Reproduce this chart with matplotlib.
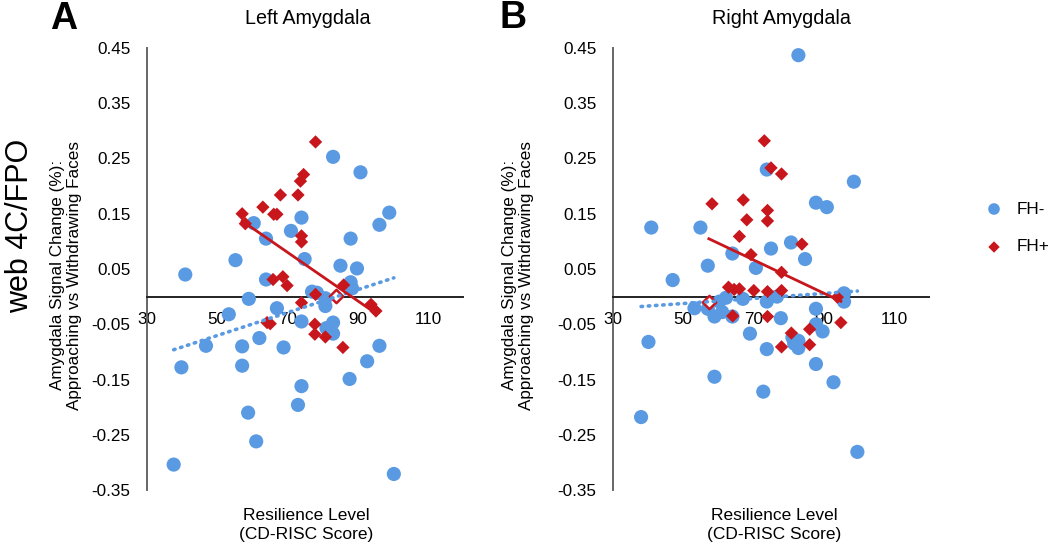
import numpy as np
import matplotlib
matplotlib.use("Agg")
import matplotlib.pyplot as plt

plt.rcParams['font.family'] = ['Liberation Sans', 'DejaVu Sans']
plt.rcParams['axes.unicode_minus'] = False

# ---- data ----
# Left amygdala, FH- (blue circles)
left_neg_x = [40.9, 39.8, 37.6, 46.8, 53.3, 55.2, 57.1, 57.1, 59.0, 60.4, 58.8, 61.1,
              62.0, 63.9, 63.9, 67.0, 68.9, 71.0, 74.0, 74.9, 74.0, 74.0, 73.0, 77.0,
              78.4, 80.8, 80.8, 83.0, 83.0, 81.1, 83.0, 85.1, 88.0, 88.0, 88.4, 89.8,
              90.8, 87.7, 92.7, 96.2, 96.2, 99.0, 100.3]
left_neg_y = [0.040, -0.128, -0.304, -0.089, -0.032, 0.066, -0.090, -0.125, -0.004, 0.133,
              -0.210, -0.262, -0.075, 0.105, 0.031, -0.021, -0.092, 0.119, 0.143, 0.068,
              -0.045, -0.162, -0.196, 0.009, 0.007, -0.003, -0.017, 0.253, -0.047, -0.057,
              -0.067, 0.056, 0.105, 0.026, 0.015, 0.051, 0.225, -0.149, -0.117, -0.089,
              0.130, 0.152, -0.321]
# Left amygdala, FH+ (red diamonds)
left_pos_x = [78.0, 74.6, 73.7, 73.0, 68.0, 63.0, 66.1, 67.0, 57.1, 58.0, 74.0, 74.0,
              65.9, 68.7, 69.9, 74.0, 78.0, 86.0, 77.8, 77.8, 80.8, 64.2, 65.1, 85.8,
              93.8, 95.2]
left_pos_y = [0.280, 0.221, 0.209, 0.184, 0.184, 0.162, 0.149, 0.149, 0.150, 0.132, 0.110,
              0.099, 0.031, 0.036, 0.020, -0.011, 0.004, 0.021, -0.050, -0.068, -0.073,
              -0.047, -0.049, -0.092, -0.014, -0.026]
left_pos_open_x = [83.9]
left_pos_open_y = [0.002]

# Right amygdala, FH- (blue circles)
right_neg_x = [82.8, 40.9, 40.1, 38.0, 47.0, 54.9, 57.0, 53.2, 57.0, 58.9, 60.3, 61.1,
               62.2, 58.9, 64.0, 64.0, 67.0, 69.0, 70.7, 72.8, 73.8, 73.8, 73.8, 75.0,
               76.7, 77.8, 80.7, 81.1, 81.6, 82.8, 82.8, 84.7, 87.8, 90.9, 87.8, 87.8,
               89.7, 87.8, 92.8, 95.8, 95.8, 98.6, 99.6]
right_neg_y = [0.437, 0.125, -0.082, -0.218, 0.030, 0.125, 0.056, -0.021, -0.022, -0.036,
               -0.009, -0.028, -0.002, -0.145, 0.078, -0.036, -0.004, -0.067, 0.052, -0.172,
               0.230, -0.009, -0.095, 0.087, 0.000, -0.039, 0.098, -0.074, -0.085, -0.093,
               -0.080, 0.068, 0.170, 0.162, -0.022, -0.050, -0.063, -0.122, -0.155, 0.006,
               -0.009, 0.208, -0.281]
# Right amygdala, FH+ (red diamonds)
right_pos_x = [73.1, 75.0, 78.0, 58.2, 67.1, 68.1, 74.0, 74.0, 66.0, 69.3, 83.8, 78.0,
               62.9, 64.5, 66.0, 70.1, 74.0, 78.0, 64.1, 74.0, 80.8, 86.0, 78.0, 86.0,
               94.9, 93.9]
right_pos_y = [0.282, 0.233, 0.222, 0.168, 0.175, 0.139, 0.156, 0.137, 0.109, 0.076, 0.095,
               0.044, 0.017, 0.013, 0.014, 0.011, 0.009, 0.011, -0.035, -0.036, -0.066,
               -0.059, -0.091, -0.087, -0.047, -0.001]
right_pos_open_x = [57.3]
right_pos_open_y = [-0.009]

x_ticks = [30, 50, 70, 90, 110]
y_ticks = [-0.35, -0.25, -0.15, -0.05, 0.05, 0.15, 0.25, 0.35, 0.45]

BLUE = '#5A9AE3'
RED = '#C8161D'

W, H = 1050, 546
fig = plt.figure(figsize=(W / 100, H / 100), dpi=100)


def px(x, y):
    return x / W, 1 - y / H


def draw_panel(ax, nx, ny, pxs, pys, ox, oy):
    ax.scatter(nx, ny, s=104, color=BLUE, edgecolors='none', zorder=3)
    ax.scatter(pxs, pys, s=46, marker='D', color=RED, edgecolors='none', zorder=4)
    ax.scatter(ox, oy, s=46, marker='D', facecolors='white', edgecolors=RED,
               linewidths=1.8, zorder=4)

    # linear trend lines (Excel style)
    k, b = np.polyfit(nx, ny, 1)
    xs = np.array([min(nx), max(nx)])
    ax.plot(xs, k * xs + b, color=BLUE, lw=2.6, ls=(0, (0.4, 1.6)),
            dash_capstyle='round', zorder=5)
    allx = list(pxs) + list(ox)
    ally = list(pys) + list(oy)
    k, b = np.polyfit(allx, ally, 1)
    xs = np.array([min(allx), max(allx)])
    ax.plot(xs, k * xs + b, color=RED, lw=2.0, zorder=5)

    ax.set_xlim(30, 120)
    ax.set_ylim(-0.35, 0.45)
    ax.set_xticks(x_ticks)
    ax.set_yticks(y_ticks)
    ax.set_yticklabels(['%.2f' % v for v in y_ticks])
    ax.tick_params(axis='both', length=0, labelsize=12.3)
    ax.tick_params(axis='y', pad=12)
    ax.tick_params(axis='x', pad=11)
    for s in ['top', 'right']:
        ax.spines[s].set_visible(False)
    ax.spines['bottom'].set_position(('data', 0))
    ax.spines['bottom'].set_color('#222222')
    ax.spines['bottom'].set_linewidth(1.4)
    ax.spines['left'].set_color('#666666')
    ax.spines['left'].set_linewidth(1.4)
    ax.patch.set_alpha(0)


# left panel
x0, y0 = px(147, 490)
ax1 = fig.add_axes([x0, y0, 316 / W, 442 / H])
draw_panel(ax1, left_neg_x, left_neg_y, left_pos_x, left_pos_y,
           left_pos_open_x, left_pos_open_y)

# right panel
x0, y0 = px(613, 490)
ax2 = fig.add_axes([x0, y0, 316 / W, 442 / H])
draw_panel(ax2, right_neg_x, right_neg_y, right_pos_x, right_pos_y,
           right_pos_open_x, right_pos_open_y)

ylab = 'Amygdala Signal Change (%):\nApproaching vs Withdrawing Faces'
xlab = 'Resilience Level\n(CD-RISC Score)'

fig.text(*px(66, 275), ylab, rotation=90, ha='center', va='center',
         fontsize=12.3, linespacing=1.2)
fig.text(*px(518, 275), ylab, rotation=90, ha='center', va='center',
         fontsize=12.3, linespacing=1.2)
fig.text(*px(306, 525), xlab, ha='center', va='center', fontsize=12.5, linespacing=1.25)
fig.text(*px(774, 525), xlab, ha='center', va='center', fontsize=12.5, linespacing=1.25)

fig.text(*px(308, 18), 'Left Amygdala', ha='center', va='center', fontsize=14.2)
fig.text(*px(781, 18), 'Right Amygdala', ha='center', va='center', fontsize=14.2)

fig.text(*px(50, 29), 'A', ha='left', va='baseline', fontsize=27, fontweight='bold')
fig.text(*px(499, 28), 'B', ha='left', va='baseline', fontsize=27, fontweight='bold')

fig.text(*px(20, 226), 'web 4C/FPO', rotation=90, ha='center', va='center',
         fontsize=22)

# legend
fig.text(*px(1017, 209), 'FH-', ha='left', va='center', fontsize=12.3)
fig.text(*px(1017, 247), 'FH+', ha='left', va='center', fontsize=12.3)
lax = fig.add_axes([0, 0, 1, 1])
lax.set_xlim(0, W)
lax.set_ylim(H, 0)
lax.axis('off')
lax.scatter([994], [209], s=70, color=BLUE, edgecolors='none')
lax.scatter([994], [247], s=34, marker='D', color=RED, edgecolors='none')

fig.savefig('out.png', dpi=100)
